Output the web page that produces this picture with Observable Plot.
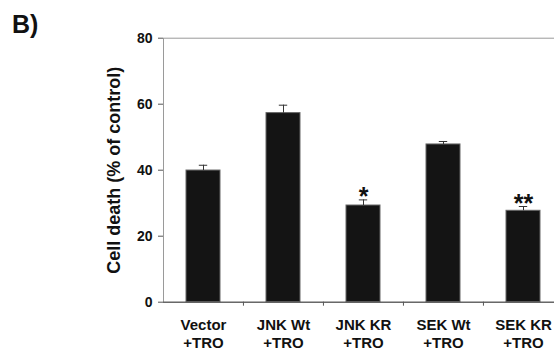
<!DOCTYPE html>
<html><head><meta charset="utf-8">
<script src="https://cdn.jsdelivr.net/npm/d3@7"></script>
<script src="https://cdn.jsdelivr.net/npm/@observablehq/plot@0.6"></script>
<style>
html,body{margin:0;padding:0;background:#fff;overflow:hidden}
#fig{position:relative;width:554px;height:352px;font-family:"Liberation Sans",Arial,sans-serif}
#panel{position:absolute;left:12px;top:12px;font-size:25px;line-height:25px;font-weight:bold;color:#111}
</style></head><body>
<div id="fig"><div id="panel">B)</div></div>
<script>
const groups = ["Vector\n+TRO", "JNK Wt\n+TRO", "JNK KR\n+TRO", "SEK Wt\n+TRO", "SEK KR\n+TRO"];
const deathPct = [39.9, 57.3, 29.3, 47.8, 27.7];
const semPct = [1.6, 2.4, 1.7, 0.9, 1.3];
const signif = ["", "", "*", "", "**"];
const yTicks = [0, 20, 40, 60, 80];
const yLabel = "Cell death (% of control)";

const rows = groups.map((g, i) => ({group: g, value: deathPct[i], hi: deathPct[i] + semPct[i], mark: signif[i]}));

const W = 554, H = 352, mT = 37.7, mB = 50.3, mL = 163, mR = -9.5;
const step = (W - mL - mR) / groups.length;
const font = '"Liberation Sans", Arial, sans-serif';

const chart = Plot.plot({
  width: W, height: H,
  marginTop: mT, marginBottom: mB, marginLeft: mL, marginRight: mR,
  style: {fontFamily: font, background: "transparent", color: "#111"},
  x: {domain: groups, paddingInner: 0.58, paddingOuter: 0.29, axis: null},
  y: {domain: [0, 80], axis: null},
  marks: [
    Plot.frame({stroke: "#9a9a9a"}),
    Plot.barY(rows, {x: "group", y: "value", fill: "#141414", stroke: "#666", strokeWidth: 1}),
    Plot.ruleX(rows, {x: "group", y1: "value", y2: "hi", stroke: "#333"}),
    Plot.tickY(rows, {x: "group", y: "hi", stroke: "#333", insetLeft: 12.8, insetRight: 12.8}),
    Plot.text(rows, {x: "group", y: "hi", text: "mark", fontSize: 25, fontWeight: "bold", fill: "#111", dy: -3}),
    Plot.ruleY([0], {stroke: "#444"}),
    Plot.ruleX(groups.slice(1), {x: d => d, dx: -step / 2, insetTop: H - mT - mB, insetBottom: -4, stroke: "#555"}),
    Plot.axisY({ticks: yTicks, tickSize: 5, tickPadding: 6, fontSize: 14, fontWeight: "bold", label: null, stroke: "#555"}),
    Plot.axisX({tickSize: 0, tickPadding: 14, fontSize: 15, fontWeight: "bold", lineHeight: 1.25, label: null}),
    Plot.text([yLabel], {frameAnchor: "left", textAnchor: "middle", rotate: -90, dx: -48.8, fontSize: 18, fontWeight: "bold", fill: "#111"})
  ]
});
document.getElementById("fig").appendChild(chart);
chart.style.position = "absolute";
chart.style.left = "0";
chart.style.top = "0";
</script>
</body></html>
